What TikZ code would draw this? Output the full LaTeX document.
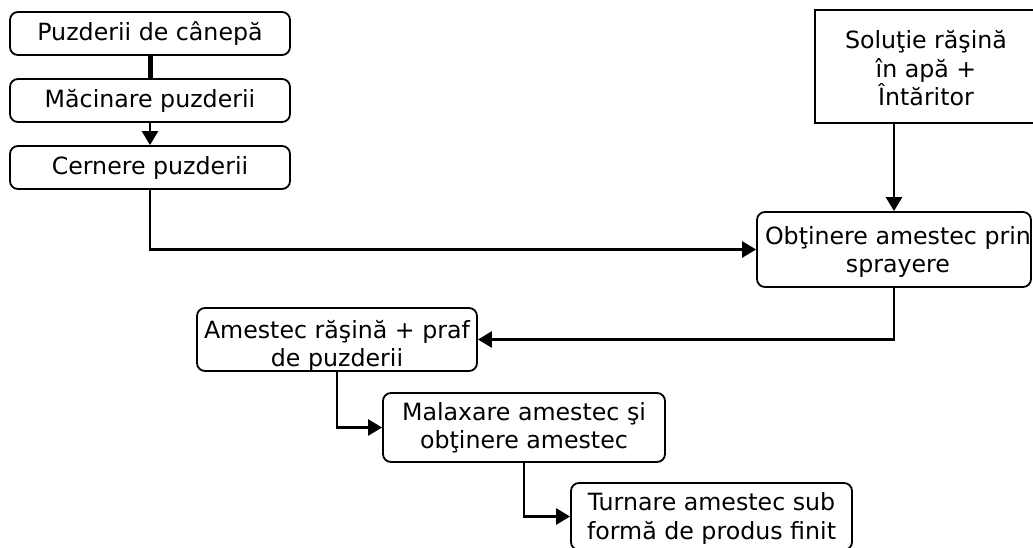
\documentclass[tikz,border=0pt]{standalone}
\usepackage{fontspec}
\setmainfont{DejaVu Sans}
\usetikzlibrary{arrows.meta}
\begin{document}
\begin{tikzpicture}[x=1pt,y=-1pt,
  every node/.style={font=\fontsize{23.7}{28.5}\selectfont, align=center, inner sep=0pt},
  rbox/.style={draw, line width=1.8pt, rounded corners=8pt},
  sbox/.style={draw, line width=1.8pt},
  flow/.style={line width=2.6pt, -{Triangle[length=14pt,width=16pt]}},
  link/.style={line width=5pt}]
\useasboundingbox (0,0) rectangle (1033,547);

% left column
\node[rbox, minimum width=280pt, minimum height=43pt] (canepa) at (150,33.5) {};
\node (canepaT) at (150,33.5) {Puzderii de cânepă};
\node[rbox, minimum width=280pt, minimum height=43pt] (macinare) at (150,100.5) {};
\node (macinareT) at (150,100.5) {Măcinare puzderii};
\node[rbox, minimum width=280pt, minimum height=43pt] (cernere) at (150,167.5) {};
\node (cernereT) at (150,167.5) {Cernere puzderii};

% resin solution and spraying
\node[sbox, minimum width=221pt, minimum height=113pt] (solutie) at (925.5,66.5) {};
\node (solutieT) at (926,68.5) {Soluţie răşină\\în apă +\\Întăritor};
\node[rbox, minimum width=274pt, minimum height=75pt] (sprayere) at (894,249.5) {};
\node (sprayereT) at (898,252) {Obţinere amestec prin\\sprayere};

% mixing and casting
\node[rbox, minimum width=280pt, minimum height=63pt] (amestec) at (337,339.5) {};
\node (amestecT) at (337,346) {Amestec răşină + praf\\de puzderii};
\node[rbox, minimum width=282pt, minimum height=69pt] (malaxare) at (524,427.5) {};
\node (malaxareT) at (524,428) {Malaxare amestec şi\\obţinere amestec};
\node[rbox, minimum width=281pt, minimum height=67pt] (turnare) at (711.5,516.5) {};
\node (turnareT) at (711.5,518.5) {Turnare amestec sub\\formă de produs finit};

% connectors
\draw[link] (canepa.south) -- (macinare.north);
\draw[flow] (macinare.south) -- (cernere.north);
\draw[flow] (cernere.south) |- (sprayere.west);
\draw[flow] (sprayere.north |- solutie.south) -- (sprayere.north);
\draw[flow] (sprayere.south) |- (amestec.east);
\draw[flow] (amestec.south) |- (malaxare.west);
\draw[flow] (malaxare.south) |- (turnare.west);
\end{tikzpicture}
\end{document}
